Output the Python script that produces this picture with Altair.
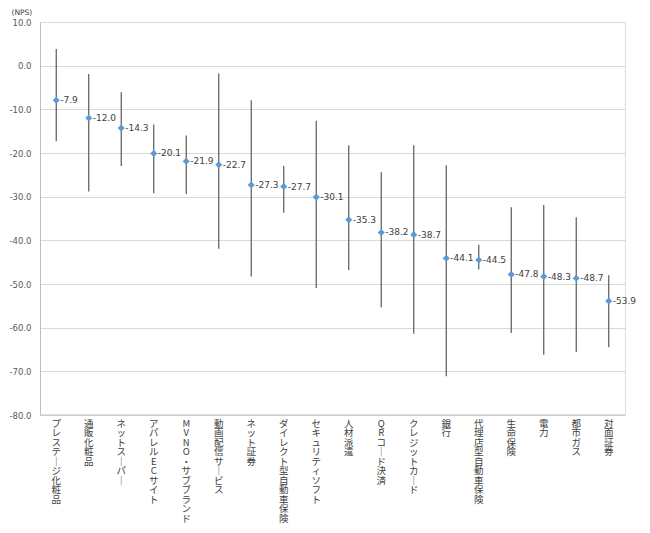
import altair as alt
import pandas as pd

categories = ["プレステージ化粧品", "通販化粧品", "ネットスーパー", "アパレルECサイト", "MVNO・サブブランド",
              "動画配信サービス", "ネット証券", "ダイレクト型自動車保険", "セキュリティソフト", "人材派遣",
              "QRコード決済", "クレジットカード", "銀行", "代理店型自動車保険", "生命保険", "電力", "都市ガス", "対面証券"]
nps = [-7.9, -12.0, -14.3, -20.1, -21.9, -22.7, -27.3, -27.7, -30.1, -35.3,
       -38.2, -38.7, -44.1, -44.5, -47.8, -48.3, -48.7, -53.9]
high = [3.8, -1.9, -6.1, -13.5, -16.0, -1.8, -7.9, -23.0, -12.6, -18.2,
        -24.4, -18.2, -22.8, -41.0, -32.4, -31.9, -34.7, -48.0]
low = [-17.3, -28.8, -23.0, -29.2, -29.4, -41.9, -48.3, -33.7, -50.9, -46.8,
       -55.3, -61.4, -71.1, -46.7, -61.2, -66.2, -65.6, -64.5]

df = pd.DataFrame({"cat": categories, "nps": nps, "high": high, "low": low})
df["lbl"] = [f"{v:.1f}" for v in nps]

FONT = "DejaVu Sans, Noto Sans CJK JP"

x = alt.X("cat:N", sort=categories, title=None,
          scale=alt.Scale(paddingInner=0, paddingOuter=0),
          axis=alt.Axis(labelAngle=0, labelAlign="center", labelBaseline="top",
                        labelExpr="split(replace(datum.label, regexp('ー','g'), '｜'), '')",
                        labelLineHeight=9.5, labelFontSize=9.5, labelFont="Noto Sans CJK JP",
                        labelColor="#404040", labelPadding=3, labelOverlap=False, labelLimit=0,
                        ticks=False, domain=False, grid=False))

y_scale = alt.Scale(domain=[-80, 10], nice=False, zero=False)

rules = alt.Chart(df).mark_rule(color="#595959", strokeWidth=1.2).encode(
    x=x,
    y=alt.Y("high:Q", scale=y_scale,
            axis=alt.Axis(values=list(range(-80, 15, 5)),
                          labelExpr="datum.value % 10 == 0 ? replace(format(datum.value, '.1f'), '\u2212', '-') : ''",
                          labelFontSize=8.5, labelFont=FONT, labelColor="#595959", labelPadding=9,
                          ticks=False, domainColor="#bfbfbf", gridColor="#d9d9d9", gridWidth=1,
                          title="(NPS)", titleAngle=0, titleAlign="left", titleBaseline="middle",
                          titleX=-29, titleY=-10, titleFontSize=7.5, titleFontWeight="normal",
                          titleFont=FONT, titleColor="#404040")),
    y2="low:Q",
)

points = alt.Chart(df).mark_point(shape="diamond", filled=True, size=50, color="#5B9BD5", opacity=1).encode(
    x=x, y=alt.Y("nps:Q", scale=y_scale)
)

labels = alt.Chart(df).mark_text(align="left", baseline="middle", dx=4, fontSize=9,
                                 font=FONT, color="#404040").encode(
    x=x, y=alt.Y("nps:Q", scale=y_scale), text="lbl:N"
)

baseline = alt.Chart(pd.DataFrame({"v": [-80]})).mark_rule(color="#bfbfbf", strokeWidth=1).encode(
    y=alt.Y("v:Q", scale=y_scale)
)

chart = alt.layer(rules, baseline, points, labels).properties(
    width=585, height=393,
    autosize=alt.AutoSizeParams(type="none"),
    padding={"left": 32, "top": 14, "right": 17, "bottom": 110},
).configure_view(stroke=None).configure(background="white")

chart.save("out.html", embed_options={"renderer": "svg", "actions": False})
